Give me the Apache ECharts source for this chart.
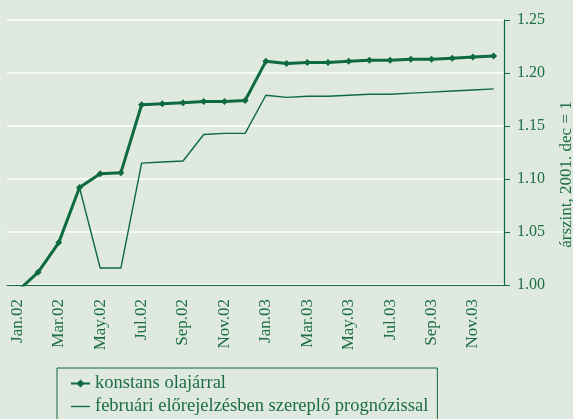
<!DOCTYPE html>
<html>
<head>
<meta charset="utf-8">
<script src="https://cdn.jsdelivr.net/npm/echarts@6/dist/echarts.min.js"></script>
<style>
  html, body { margin: 0; padding: 0; background: #dfe9df; }
  #chart { width: 573px; height: 419px; }
</style>
</head>
<body>
<div id="chart"></div>
<script>
// havi kategóriák (minden második felirat látszik)
var months = ['Jan.02', 'Feb.02', 'Mar.02', 'Apr.02', 'May.02', 'Jun.02', 'Jul.02', 'Aug.02',
    'Sep.02', 'Oct.02', 'Nov.02', 'Dec.02', 'Jan.03', 'Feb.03', 'Mar.03', 'Apr.03',
    'May.03', 'Jun.03', 'Jul.03', 'Aug.03', 'Sep.03', 'Oct.03', 'Nov.03', 'Dec.03'];

// árszint, 2001. dec = 1
var konstans = [0.994, 1.012, 1.040, 1.092, 1.105, 1.106, 1.170, 1.171, 1.172, 1.173, 1.173, 1.174,
    1.211, 1.209, 1.210, 1.210, 1.211, 1.212, 1.212, 1.213, 1.213, 1.214, 1.215, 1.216];
var februari = [0.994, 1.012, 1.040, 1.092, 1.016, 1.016, 1.115, 1.116, 1.117, 1.142, 1.143, 1.143,
    1.179, 1.177, 1.178, 1.178, 1.179, 1.180, 1.180, 1.181, 1.182, 1.183, 1.184, 1.185];

var seriesNames = ['konstans olajárral', 'februári előrejelzésben szereplő prognózissal'];

var green = '#0d6b3f';
var textGreen = '#1c6e45';
var font = 'Liberation Serif';

var chart = echarts.init(document.getElementById('chart'));

var option = {
    backgroundColor: '#dfe9df',
    animation: false,
    grid: {
        left: 7,
        right: 69,
        top: 20,
        bottom: 134,
        outerBoundsMode: 'none'
    },
    legend: {
        orient: 'vertical',
        left: 57,
        top: 368,
        height: 80,
        padding: [6, 9, 8, 13],
        itemGap: 4,
        itemWidth: 19,
        itemHeight: 10,
        borderColor: green,
        borderWidth: 1,
        data: [
            { name: seriesNames[0] },
            // vékony vonal ikon, jelölő nélkül
            { name: seriesNames[1], icon: 'path://M0,0H20V1.4H0Z' }
        ],
        textStyle: {
            fontFamily: font,
            fontSize: 18.5,
            color: textGreen
        }
    },
    xAxis: {
        type: 'category',
        data: months,
        boundaryGap: true,
        axisLine: { lineStyle: { color: green, width: 1.2 } },
        axisTick: {
            inside: true,
            length: 5,
            interval: 0,
            lineStyle: { color: green }
        },
        axisLabel: {
            interval: 1,
            rotate: 90,
            margin: 14,
            fontFamily: font,
            fontSize: 17,
            color: textGreen
        },
        splitLine: { show: false }
    },
    yAxis: {
        type: 'value',
        position: 'right',
        min: 1.00,
        max: 1.25,
        interval: 0.05,
        name: 'árszint, 2001. dec = 1',
        nameLocation: 'middle',
        nameRotate: 90,
        nameGap: 54,
        nameTextStyle: {
            fontFamily: font,
            fontSize: 17,
            color: textGreen,
            padding: [0, 44, 0, 0]
        },
        axisLine: { show: true, lineStyle: { color: green, width: 1.2 } },
        axisTick: { show: true, length: 6, lineStyle: { color: green } },
        axisLabel: {
            margin: 13,
            fontFamily: font,
            fontSize: 16,
            color: textGreen,
            formatter: function (v) { return v.toFixed(2); }
        },
        splitLine: { lineStyle: { color: '#ffffff', width: 1.5 } }
    },
    series: [
        {
            name: seriesNames[1],
            type: 'line',
            data: februari,
            symbol: 'none',
            lineStyle: { color: green, width: 1.4 },
            itemStyle: { color: green },
            z: 2
        },
        {
            name: seriesNames[0],
            type: 'line',
            data: konstans,
            symbol: 'diamond',
            symbolSize: 7,
            lineStyle: { color: green, width: 3 },
            itemStyle: { color: green },
            z: 3
        }
    ]
};

chart.setOption(option);
</script>
</body>
</html>
